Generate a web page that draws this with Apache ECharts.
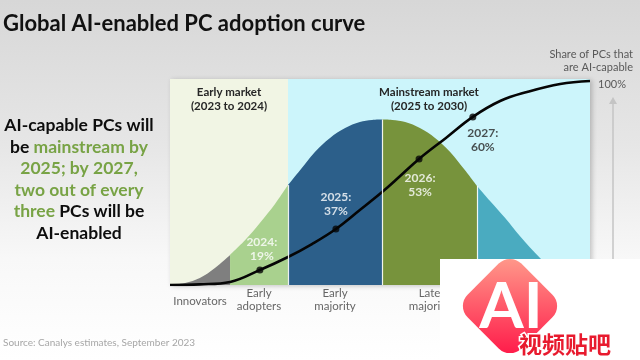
<!DOCTYPE html>
<html><head><meta charset="utf-8">
<script src="https://cdn.jsdelivr.net/npm/echarts@6/dist/echarts.min.js"></script>
<style>html,body{margin:0;padding:0;background:#fff;}#c{width:640px;height:360px;}</style>
</head><body><div id="c"></div>
<script>
// ---------- data ----------
const titleText = 'Global AI-enabled PC adoption curve';
const sourceText = 'Source: Canalys estimates, September 2023';
const axisNote = 'Share of PCs that\nare AI-capable';
const axisTop = '100%';

const marketNames = ['Early market\n(2023 to 2024)', 'Mainstream market\n(2025 to 2030)'];
const marketBounds = [0, 28.1, 100];

const segmentNames = ['Innovators', 'Early\nadopters', 'Early\nmajority', 'Late\nmajority'];
const segmentBounds = [0, 14.3, 28.1, 50.5, 73.1, 100];

// bell curve (adopter distribution)
const bellX = [0, 3.6, 7.1, 10.7, 14.3, 17.9, 21.4, 25.0, 28.1, 31.0, 34.5, 38.1, 41.7, 45.2, 48.1, 50.5, 52.9, 56.0, 59.5, 63.1, 66.7, 70.2, 73.1, 76.2, 79.8, 83.3, 88.1, 91.7, 95.2, 100];
const bellY = [0, 1.0, 3.4, 8.3, 14.6, 21.8, 30.1, 39.3, 48.5, 55.8, 64.6, 71.4, 76.2, 79.1, 80.1, 80.3, 80.1, 79.1, 76.2, 71.4, 64.6, 55.8, 48.1, 40.8, 32.5, 23.8, 13.1, 6.3, 1.9, 0];

// cumulative adoption S-curve
const adoptX = [0, 7.1, 14.3, 21.4, 28.1, 33.8, 39.5, 45.2, 50.5, 54.8, 59.3, 65.7, 72.1, 78.6, 85.0, 92.9, 100];
const adoptY = [0, 0.3, 1.5, 7.3, 13.6, 19.9, 27.2, 36.4, 45.1, 52.9, 61.2, 71.4, 81.6, 89.3, 93.7, 97.6, 99.0];

// milestones on the curve
const milestoneYears = ['2024', '2025', '2026', '2027'];
const milestoneShares = [19, 37, 53, 60];
const milestoneX = [21.4, 39.5, 59.3, 72.1];
const milestoneY = [7.3, 27.2, 61.2, 81.6];

// ---------- styles ----------
const segmentColors = ['#7f7f7f', '#a9d18e', '#2c5f8a', '#77933c', '#4aabc0'];
const marketColors = ['#f1f5e4', '#ccf5fb'];
const milestoneLabelStyle = [
  {position: 'top', distance: 3, offset: [2, 0], color: '#ffffff'},
  {position: 'top', distance: 7, offset: [0, 0], color: '#ffffff'},
  {position: 'bottom', distance: 9, offset: [1, 0], color: '#ffffff'},
  {position: 'bottom', distance: 6, offset: [10, 0], color: '#262626'}
];
const FONT = 'Lato';

const chart = echarts.init(document.getElementById('c'));

const bellSeries = segmentColors.map((col, i) => {
  const lo = segmentBounds[i], hi = segmentBounds[i + 1];
  const pts = [];
  bellX.forEach((x, k) => { if (x >= lo && x <= hi) pts.push([x, bellY[k]]); });
  return {
    type: 'line', z: 2, silent: true, data: pts, smooth: 0.35, symbol: 'none',
    lineStyle: {width: 0}, areaStyle: {color: col, opacity: 1}
  };
});

const sepBounds = [segmentBounds[2], segmentBounds[3], segmentBounds[4]];
const sepLines = sepBounds.map(b => {
  const h = bellY[bellX.indexOf(b)];
  return [{coord: [b, 0]}, {coord: [b, h]}];
});

const option = {
  animation: false,
  backgroundColor: new echarts.graphic.LinearGradient(0, 0, 0, 1, [
    {offset: 0, color: '#d7d7d7'},
    {offset: 0.4, color: '#e6e6e6'},
    {offset: 0.72, color: '#f8f8f8'},
    {offset: 1, color: '#ffffff'}
  ]),
  grid: {left: 170, right: 50, top: 79, bottom: 75, show: true, borderWidth: 0,
    backgroundColor: marketColors[1], shadowColor: 'rgba(0,0,0,0.22)', shadowBlur: 5, shadowOffsetX: 2, shadowOffsetY: 1},
  xAxis: {type: 'value', min: 0, max: 100, show: false},
  yAxis: {type: 'value', min: 0, max: 100, show: false},
  series: [
    {
      type: 'line', z: 1, data: [], silent: true,
      markArea: {
        silent: true,
        data: marketNames.map((nm, i) => [
          {xAxis: marketBounds[i], name: nm, itemStyle: {color: marketColors[i]},
           label: {offset: i === 1 ? [-10, 0] : [0, 0]}},
          {xAxis: marketBounds[i + 1]}
        ]),
        label: {show: true, position: 'insideTop', distance: 6, color: '#262626',
          fontFamily: FONT, fontWeight: 'bold', fontSize: 11.5, lineHeight: 14, align: 'center'}
      }
    },
    ...bellSeries,
    {
      type: 'line', z: 3, data: [], silent: true,
      markLine: {silent: true, symbol: 'none', label: {show: false},
        lineStyle: {color: '#ffffff', width: 1.2, type: 'solid', opacity: 0.9}, data: sepLines}
    },
    {
      type: 'line', z: 4, silent: true, smooth: 0.4, symbol: 'none',
      data: adoptX.map((x, i) => [x, adoptY[i]]),
      lineStyle: {color: '#050505', width: 2.6}
    },
    {
      type: 'scatter', z: 5, silent: true, symbolSize: 7,
      itemStyle: {color: '#050505'},
      data: milestoneX.map((x, i) => ({
        value: [x, milestoneY[i]],
        label: {show: true, formatter: milestoneYears[i] + ':\n' + milestoneShares[i] + '%',
          position: milestoneLabelStyle[i].position, distance: milestoneLabelStyle[i].distance,
          offset: milestoneLabelStyle[i].offset, color: milestoneLabelStyle[i].color,
          fontFamily: FONT, fontWeight: 'bold', fontSize: 12, lineHeight: 14, align: 'center'}
      }))
    },
    {
      type: 'scatter', z: 5, silent: true, symbolSize: 0,
      data: segmentNames.map((nm, i) => ({
        value: [(segmentBounds[i] + segmentBounds[i + 1]) / 2, 0],
        label: {show: true, formatter: nm, position: 'bottom', distance: nm.indexOf('\n') >= 0 ? 2 : 10,
          color: '#404040', fontFamily: FONT, fontSize: 11.5, lineHeight: 13, align: 'center'}
      }))
    }
  ],
  graphic: [
    {type: 'text', left: 3, top: 13, style: {text: titleText, font: 'bold 22px ' + FONT, fill: '#111111'}},
    {type: 'text', x: 79, y: 115, style: {
      text: '{k|AI-capable PCs will}\n{k|be }{g|mainstream by}\n{g|2025; by 2027,}\n{g|two out of every}\n{g|three}{k| PCs will be}\n{k|AI-enabled}',
      align: 'center', verticalAlign: 'top',
      rich: {
        k: {fill: '#0d0d0d', font: 'bold 17.5px ' + FONT, lineHeight: 21.5},
        g: {fill: '#78a345', font: 'bold 17.5px ' + FONT, lineHeight: 21.5}
      }}},
    {type: 'text', x: 3, y: 343, style: {text: sourceText, font: '10px ' + FONT, fill: '#a6a6a6', verticalAlign: 'middle'}},
    {type: 'text', x: 633, y: 48, style: {text: axisNote, font: '11px ' + FONT, fill: '#595959', align: 'right', verticalAlign: 'top', lineHeight: 13}},
    {type: 'text', x: 612, y: 84, style: {text: axisTop, font: '11px ' + FONT, fill: '#595959', align: 'center', verticalAlign: 'middle'}},
    {type: 'line', shape: {x1: 613, y1: 300, x2: 613, y2: 103}, style: {stroke: '#c4c4c4', lineWidth: 1.5}},
    {type: 'polygon', shape: {points: [[613, 97], [609, 104], [617, 104]]}, style: {fill: '#c4c4c4'}},
    // watermark overlay
    {type: 'rect', z: 100, shape: {x: 440, y: 259, width: 200, height: 101}, style: {fill: '#ffffff'}},
    {type: 'rect', z: 101, x: 510, y: 306, rotation: Math.PI / 4,
      shape: {x: -38, y: -38, width: 76, height: 76, r: 16},
      style: {fill: new echarts.graphic.LinearGradient(1, 0, 0, 1, [
        {offset: 0, color: '#ffa08e'}, {offset: 1, color: '#ff1446'}])}},
    {type: 'text', z: 102, x: 511, y: 307, style: {text: 'AI', font: 'bold 64px ' + FONT, fill: '#ffffff', align: 'center', verticalAlign: 'middle'}},
    {type: 'text', z: 103, x: 565, y: 344, style: {text: '视频贴吧', font: 'bold 23px "Noto Sans CJK SC"', fill: '#e81a2e', stroke: '#ffffff', lineWidth: 3, align: 'center', verticalAlign: 'middle'}}
  ]
};
chart.setOption(option);
</script>
</body></html>
